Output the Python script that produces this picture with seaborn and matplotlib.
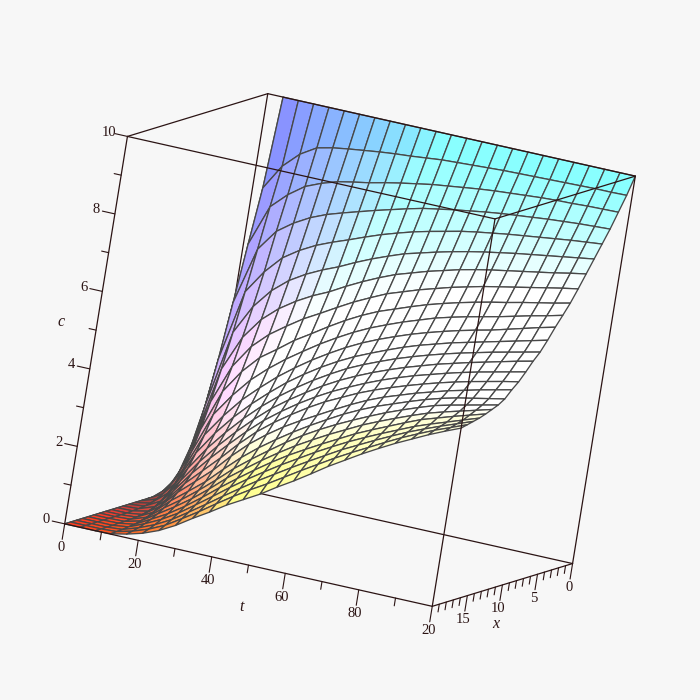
import numpy as np
import pandas as pd
import matplotlib
matplotlib.use("Agg")
import matplotlib.pyplot as plt
from mpl_toolkits.mplot3d import proj3d
import seaborn as sns

# grid of the surface, 25 lines each way
t_values = np.linspace(0, 100, 25)
x_values = np.linspace(0, 20, 25)

# c, one row per x line, one column per t line
c_x00 = [0, 10, 10, 10, 10, 10, 10, 10, 10, 10, 10, 10, 10, 10, 10, 10, 10, 10, 10, 10, 10, 10, 10, 10, 10]
c_x01 = [0, 7.7, 8.35, 8.75, 9.0, 9.09, 9.15, 9.2, 9.25, 9.29, 9.32, 9.36, 9.4, 9.42, 9.44, 9.46, 9.48, 9.49, 9.5, 9.51, 9.52, 9.53, 9.54, 9.54, 9.55]
c_x02 = [0, 6.3, 7.35, 7.75, 8.05, 8.22, 8.35, 8.43, 8.5, 8.59, 8.67, 8.74, 8.81, 8.86, 8.91, 8.96, 9.0, 9.03, 9.06, 9.09, 9.11, 9.12, 9.14, 9.15, 9.16]
c_x03 = [0, 4.84, 6.3, 6.85, 7.15, 7.38, 7.55, 7.68, 7.8, 7.92, 8.03, 8.14, 8.24, 8.31, 8.38, 8.44, 8.5, 8.55, 8.59, 8.63, 8.67, 8.7, 8.73, 8.75, 8.77]
c_x04 = [0, 3.43, 5.25, 5.85, 6.3, 6.58, 6.8, 6.97, 7.12, 7.28, 7.43, 7.56, 7.68, 7.78, 7.87, 7.96, 8.03, 8.09, 8.15, 8.2, 8.25, 8.3, 8.35, 8.39, 8.43]
c_x05 = [0, 2.29, 4.25, 5.0, 5.5, 5.85, 6.1, 6.3, 6.47, 6.67, 6.85, 7.01, 7.16, 7.27, 7.38, 7.48, 7.57, 7.65, 7.72, 7.79, 7.85, 7.91, 7.97, 8.03, 8.09]
c_x06 = [0, 1.45, 3.35, 4.25, 4.8, 5.17, 5.45, 5.68, 5.87, 6.1, 6.31, 6.5, 6.67, 6.8, 6.93, 7.04, 7.15, 7.24, 7.32, 7.39, 7.46, 7.53, 7.6, 7.68, 7.75]
c_x07 = [0, .86, 2.55, 3.55, 4.15, 4.55, 4.85, 5.13, 5.36, 5.6, 5.83, 6.03, 6.22, 6.36, 6.5, 6.62, 6.74, 6.84, 6.94, 7.02, 7.1, 7.18, 7.26, 7.34, 7.41]
c_x08 = [0, .55, 1.88, 2.95, 3.55, 4.0, 4.3, 4.62, 4.88, 5.15, 5.4, 5.62, 5.81, 5.96, 6.11, 6.25, 6.37, 6.48, 6.58, 6.67, 6.75, 6.84, 6.92, 7.0, 7.09]
c_x09 = [0, .35, 1.34, 2.4, 2.98, 3.47, 3.85, 4.18, 4.47, 4.75, 5.0, 5.23, 5.43, 5.6, 5.76, 5.9, 6.04, 6.15, 6.25, 6.34, 6.43, 6.53, 6.63, 6.72, 6.82]
c_x10 = [0, .22, .93, 1.92, 2.5, 3.0, 3.4, 3.77, 4.09, 4.38, 4.64, 4.88, 5.09, 5.27, 5.43, 5.58, 5.71, 5.83, 5.94, 6.04, 6.13, 6.24, 6.35, 6.46, 6.56]
c_x11 = [0, .13, .63, 1.5, 2.1, 2.6, 3.03, 3.41, 3.76, 4.06, 4.33, 4.57, 4.78, 4.96, 5.13, 5.29, 5.43, 5.55, 5.67, 5.77, 5.87, 5.97, 6.07, 6.17, 6.27]
c_x12 = [0, .07, .42, 1.15, 1.75, 2.25, 2.7, 3.1, 3.45, 3.76, 4.04, 4.29, 4.52, 4.71, 4.88, 5.04, 5.18, 5.31, 5.43, 5.54, 5.64, 5.74, 5.83, 5.92, 6.01]
c_x13 = [0, .04, .26, .87, 1.45, 1.95, 2.4, 2.81, 3.18, 3.49, 3.77, 4.03, 4.26, 4.46, 4.64, 4.8, 4.95, 5.08, 5.21, 5.32, 5.43, 5.53, 5.63, 5.73, 5.82]
c_x14 = [0, .02, .16, .65, 1.2, 1.68, 2.12, 2.54, 2.92, 3.24, 3.53, 3.79, 4.02, 4.22, 4.41, 4.58, 4.73, 4.87, 4.99, 5.11, 5.22, 5.32, 5.41, 5.5, 5.59]
c_x15 = [0, .01, .09, .47, .98, 1.4, 1.82, 2.27, 2.67, 3.0, 3.29, 3.56, 3.8, 4.0, 4.2, 4.37, 4.52, 4.66, 4.79, 4.91, 5.02, 5.12, 5.21, 5.3, 5.38]
c_x16 = [0, 0, .05, .34, .8, 1.17, 1.55, 2.0, 2.4, 2.73, 3.02, 3.27, 3.5, 3.73, 3.95, 4.15, 4.32, 4.46, 4.6, 4.72, 4.84, 4.94, 5.04, 5.13, 5.22]
c_x17 = [0, 0, .03, .24, .63, .96, 1.3, 1.71, 2.1, 2.44, 2.74, 3.02, 3.28, 3.52, 3.75, 3.95, 4.13, 4.28, 4.43, 4.57, 4.69, 4.79, 4.87, 4.95, 5.03]
c_x18 = [0, 0, .02, .16, .49, .79, 1.12, 1.48, 1.86, 2.19, 2.5, 2.8, 3.07, 3.31, 3.53, 3.73, 3.92, 4.1, 4.26, 4.41, 4.55, 4.65, 4.74, 4.83, 4.92]
c_x19 = [0, 0, .01, .11, .38, .65, .95, 1.29, 1.66, 1.98, 2.29, 2.58, 2.85, 3.09, 3.32, 3.53, 3.74, 3.92, 4.09, 4.25, 4.4, 4.52, 4.63, 4.74, 4.85]
c_x20 = [0, 0, .01, .07, .29, .52, .8, 1.12, 1.46, 1.78, 2.09, 2.38, 2.65, 2.89, 3.12, 3.34, 3.56, 3.75, 3.93, 4.11, 4.28, 4.41, 4.54, 4.66, 4.78]
c_x21 = [0, 0, 0, .05, .22, .42, .67, .97, 1.28, 1.6, 1.9, 2.18, 2.45, 2.7, 2.95, 3.18, 3.4, 3.6, 3.79, 3.97, 4.15, 4.3, 4.44, 4.58, 4.72]
c_x22 = [0, 0, 0, .03, .16, .33, .55, .83, 1.12, 1.42, 1.71, 1.99, 2.25, 2.51, 2.76, 3.0, 3.24, 3.45, 3.66, 3.86, 4.05, 4.22, 4.38, 4.53, 4.68]
c_x23 = [0, 0, 0, .02, .12, .26, .45, .71, .98, 1.27, 1.55, 1.81, 2.05, 2.31, 2.57, 2.82, 3.07, 3.3, 3.52, 3.74, 3.95, 4.14, 4.32, 4.48, 4.64]
c_x24 = [0, 0, 0, .01, .09, .2, .36, .58, .85, 1.1, 1.37, 1.6, 1.83, 2.1, 2.35, 2.62, 2.9, 3.15, 3.4, 3.63, 3.85, 4.05, 4.25, 4.43, 4.6]

# tick positions and labels
t_major = [0, 20, 40, 60, 80]
t_minor = [10, 30, 50, 70, 90]
x_major = [0, 5, 10, 15, 20]
x_minor = [1, 2, 3, 4, 6, 7, 8, 9, 11, 12, 13, 14, 16, 17, 18, 19]
c_major = [0, 2, 4, 6, 8, 10]
c_minor = [1, 3, 5, 7, 9]

BG = "#f7f7f7"
LINE = "#2b1414"
GRID = "#484848"
SERIF = "Liberation Serif"

sns.set_theme(style="white", rc={"figure.facecolor": BG, "savefig.facecolor": BG})

df = pd.DataFrame(
    [c_x00, c_x01, c_x02, c_x03, c_x04, c_x05, c_x06, c_x07, c_x08, c_x09, c_x10, c_x11, c_x12,
     c_x13, c_x14, c_x15, c_x16, c_x17, c_x18, c_x19, c_x20, c_x21, c_x22, c_x23, c_x24],
    index=x_values, columns=t_values)

T, X = np.meshgrid(df.columns.values, df.index.values)
C = df.values

# xyz shading: red follows x, green follows t, blue follows c, all lightened
def cell_mean(a):
    return (a[:-1, :-1] + a[1:, :-1] + a[:-1, 1:] + a[1:, 1:]) / 4

cx, ct, cc = cell_mean(X), cell_mean(T), cell_mean(C)
lift = 0.22 + 0.28 * np.clip(cc / 1.5, 0, 1)
# the steep middle of the surface catches more light and goes nearly white
glow = 0.3 * np.clip(cx / 8, 0, 1) * np.clip((cc - 1) / 2.5, 0, 1)
# towards x = 20 the surface turns away from the light, which leaves it yellow
turn = np.clip((cx - 13) / 4, 0, 1)
red = cx / 20 + lift + glow
green = ct / 100 + lift + glow
blue = cc / 10 + lift + glow * (1 - turn) - 0.1 * turn
colors = np.clip(np.dstack([red, green, blue]), 0, 1)

fig = plt.figure(figsize=(7, 7), dpi=100)
ax = fig.add_axes([-0.0135, -0.0135, 1, 1], projection="3d", proj_type="ortho", computed_zorder=False)
ax.set_facecolor(BG)
ax.set_xlim(0, 20)
ax.set_ylim(0, 100)
ax.set_zlim(0, 10)
ax.set_xticks([])
ax.set_yticks([])
ax.set_zticks([])
ax.set_box_aspect((1, 1, 1), zoom=0.957)
ax.view_init(elev=9.9, azim=19.3, roll=-9.2)
ax.set_axis_off()


def label_at(x, t, c, s, **kw):
    # place the text through the projection so it lies in plain axes coordinates
    px, py, _ = proj3d.proj_transform(x, t, c, ax.get_proj())
    ax.text2D(px, py, s, transform=ax.transData, ha="center", va="center",
              family=SERIF, color=LINE, **kw)


# box edges hidden by the surface
for p, q in [((0, 0, 0), (0, 100, 0)), ((0, 0, 0), (20, 0, 0)), ((0, 0, 0), (0, 0, 10))]:
    ax.plot(*zip(p, q), color=LINE, lw=0.9, zorder=1)

ax.plot_surface(X, T, C, rstride=1, cstride=1, facecolors=colors, shade=False,
                edgecolor=GRID, linewidth=0.95, antialiased=True, zorder=2)

# box edges drawn over it
front_edges = [
    ((20, 0, 0), (20, 100, 0)), ((20, 100, 0), (0, 100, 0)),
    ((20, 0, 0), (20, 0, 10)), ((20, 100, 0), (20, 100, 10)), ((0, 100, 0), (0, 100, 10)),
    ((20, 0, 10), (20, 100, 10)), ((20, 100, 10), (0, 100, 10)),
    ((0, 100, 10), (0, 0, 10)), ((0, 0, 10), (20, 0, 10)),
]
for p, q in front_edges:
    ax.plot(*zip(p, q), color=LINE, lw=0.9, zorder=3)

# ticks
for v in t_major:
    ax.plot([20, 20], [v, v], [0, -0.4], color=LINE, lw=0.8, zorder=3)
    label_at(20, v, -0.62, str(v), fontsize=10.5)
for v in t_minor:
    ax.plot([20, 20], [v, v], [0, -0.2], color=LINE, lw=0.8, zorder=3)
for v in x_major:
    ax.plot([v, v], [100, 100], [0, -0.4], color=LINE, lw=0.8, zorder=3)
    label_at(v, 100, -0.62, str(v), fontsize=10.5)
for v in x_minor:
    ax.plot([v, v], [100, 100], [0, -0.2], color=LINE, lw=0.8, zorder=3)
for v in c_major:
    ax.plot([20, 20], [0, -3.4], [v, v], color=LINE, lw=0.8, zorder=3)
    label_at(20, -5.0, v, str(v), fontsize=10.5)
for v in c_minor:
    ax.plot([20, 20], [0, -1.9], [v, v], color=LINE, lw=0.8, zorder=3)

label_at(20, 50, -1.08, "t", style="italic", fontsize=11.5)
label_at(10, 100, -1.0, "x", style="italic", fontsize=11.5)
label_at(20, -9.5, 5, "c", style="italic", fontsize=11.5)

fig.savefig("out.png", dpi=100, facecolor=BG)
